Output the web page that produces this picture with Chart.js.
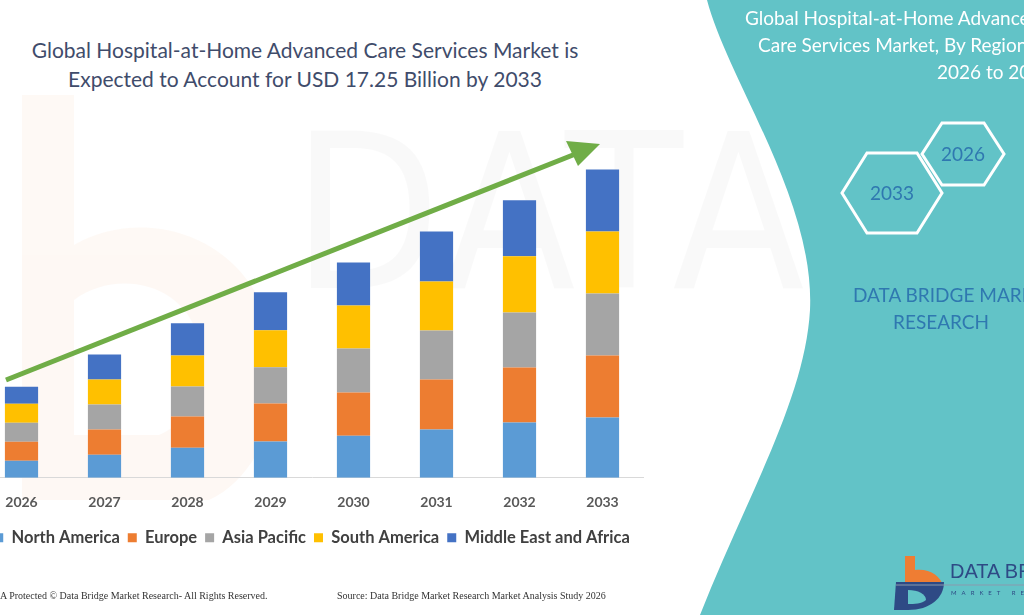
<!DOCTYPE html>
<html>
<head>
<meta charset="utf-8">
<script src="https://cdn.jsdelivr.net/npm/chart.js@4.4.1/dist/chart.umd.min.js"></script>
<style>
  html, body { margin: 0; padding: 0; }
  body { width: 1024px; height: 615px; position: relative; overflow: hidden; background: #ffffff; font-family: Lato, "Open Sans", sans-serif; }
  .abs { position: absolute; }
  #title { left: 0; width: 610px; top: 35px; text-align: center; color: #3f4c6b; font-size: 21px; line-height: 29px; }
  #chartBox { left: -20px; top: 95px; }
  .foot { top: 590px; font-family: "Liberation Serif", serif; font-size: 10px; color: #333; white-space: nowrap; }
  .panelTxt { color: #ffffff; font-size: 19px; white-space: nowrap; }
  .dbmr { color: #2f78b0; font-size: 19px; white-space: nowrap; }
  .wm { color: rgba(0,0,0,0.022); font-family: "Liberation Sans Narrow", "DejaVu Sans Condensed", sans-serif; white-space: nowrap; }
</style>
</head>
<body>
<!-- faint watermark -->
<svg class="abs" style="left:0;top:0" width="1024" height="615">
  <g opacity="0.45">
    <path d="M22,95 h52 v150 c70,-40 170,-10 195,80 c20,70 -5,150 -60,175 h-187 z" fill="#fdf1e8"/>
    <path d="M74,300 c40,-30 110,-20 125,40 c10,40 -5,80 -40,95 h-85 z" fill="#ffffff"/>
  </g>
</svg>
<div class="abs wm" style="left:292px;top:88px;font-size:215px;letter-spacing:6px;">DATA BRIDGE</div>
<div class="abs wm" style="left:300px;top:418px;font-size:44px;letter-spacing:50px;">MARKET RESEARCH</div>

<div id="title" class="abs">Global Hospital-at-Home Advanced Care Services Market is<br>Expected to Account for USD 17.25 Billion by 2033</div>

<div id="chartBox" class="abs"><canvas id="myChart" width="664" height="461"></canvas></div>

<!-- growth arrow -->
<svg class="abs" style="left:0;top:0" width="700" height="615">
  <line x1="6" y1="380" x2="578" y2="153" stroke="#70ad47" stroke-width="5"/>
  <polygon points="600,144 566,141 578,166" fill="#70ad47"/>
</svg>

<div class="abs foot" style="left:0;">A Protected © Data Bridge Market Research- All Rights Reserved.</div>
<div class="abs foot" style="left:337px;">Source: Data Bridge Market Research Market Analysis Study 2026</div>

<!-- right panel -->
<svg class="abs" style="left:0;top:0" width="1024" height="615">
  <path d="M707,0 C728,80 815,200 810,310 C805,400 745,500 700,615 L1024,615 L1024,0 Z" fill="#62c3c7"/>
  <polygon points="842,193 867,153 917,153 942,193 917,233 867,233" fill="none" stroke="#ffffff" stroke-width="3"/>
  <polygon points="922,154 942,123 984,123 1004,154 984,185 942,185" fill="none" stroke="#ffffff" stroke-width="3"/>
  <text x="892" y="200" text-anchor="middle" font-family="Lato, sans-serif" font-size="19" fill="#2f78b0">2033</text>
  <text x="963" y="161" text-anchor="middle" font-family="Lato, sans-serif" font-size="19" fill="#2f78b0">2026</text>
  <!-- logo -->
  <path d="M905,556 h10 v14 c14,-2 26,6 28,16 h-38 z" fill="#ef7d33"/>
  <path d="M896,582 h48 c0,16 -14,28 -36,28 h-14 z" fill="#2e4a85"/>
  <path d="M908,590 c10,0 18,4 18,10 c-4,4 -12,4 -18,4 z" fill="#62c3c7"/>
  <line x1="896" y1="585" x2="1024" y2="585" stroke="#8a99ad" stroke-width="1"/>
</svg>
<div class="abs panelTxt" style="left:745px;top:6px;">Global Hospital-at-Home Advanced</div>
<div class="abs panelTxt" style="left:758px;top:33px;">Care Services Market, By Region,</div>
<div class="abs panelTxt" style="left:937px;top:60px;">2026 to 2033</div>
<div class="abs dbmr" style="left:853px;top:283px;">DATA BRIDGE MARKET</div>
<div class="abs dbmr" style="left:893px;top:310px;">RESEARCH</div>
<div class="abs" style="left:950px;top:560px;color:#2e4a85;font-size:20px;font-family:'Liberation Sans Narrow',sans-serif;white-space:nowrap;">DATA BRIDGE</div>
<div class="abs" style="left:951px;top:589px;color:#2e4a85;font-size:6px;letter-spacing:5px;white-space:nowrap;">MARKET RESEARCH</div>

<script>
// years on the x axis
const years = ['2026', '2027', '2028', '2029', '2030', '2031', '2032', '2033'];

// market size by region, USD billion
const northAmerica = [0.95, 1.29, 1.68, 2.02, 2.35, 2.69, 3.08, 3.36];
const europe       = [1.06, 1.40, 1.74, 2.13, 2.41, 2.80, 3.08, 3.47];
const asiaPacific  = [1.06, 1.40, 1.68, 2.02, 2.46, 2.74, 3.08, 3.47];
const southAmerica = [1.06, 1.40, 1.74, 2.07, 2.41, 2.74, 3.14, 3.47];
const middleEast   = [0.95, 1.40, 1.79, 2.13, 2.41, 2.80, 3.14, 3.47];

const regionNames = ['North America', 'Europe', 'Asia Pacific', 'South America', 'Middle East and Africa'];
const regionColors = ['#5b9bd5', '#ed7d31', '#a5a5a5', '#ffc000', '#4472c4'];
const regionValues = [northAmerica, europe, asiaPacific, southAmerica, middleEast];

const datasets = regionNames.map((name, i) => ({
    label: name,
    data: regionValues[i],
    backgroundColor: regionColors[i],
    borderWidth: 0,
    categoryPercentage: 0.8,
    barPercentage: 0.5
}));

const ctx = document.getElementById('myChart').getContext('2d');
const myChart = new Chart(ctx, {
    type: 'bar',
    data: { labels: years, datasets: datasets },
    options: {
        responsive: false,
        animation: false,
        layout: { padding: 0 },
        plugins: {
            tooltip: { enabled: false },
            legend: {
                position: 'bottom',
                labels: {
                    boxWidth: 9,
                    boxHeight: 9,
                    padding: 8,
                    color: '#404040',
                    font: { family: 'Lato', size: 16.5, weight: 'bold' }
                }
            }
        },
        scales: {
            x: {
                stacked: true,
                grid: { display: false },
                border: { color: '#d9d9d9', width: 1 },
                ticks: { color: '#595959', padding: 8, font: { family: 'Lato', size: 14, weight: 'bold' } },
                afterFit: (scale) => { scale.height += 3; } // a little more room above the legend
            },
            y: {
                stacked: true,
                display: false,
                min: 0,
                max: 21.4
            }
        }
    }
});
</script>
</body>
</html>
